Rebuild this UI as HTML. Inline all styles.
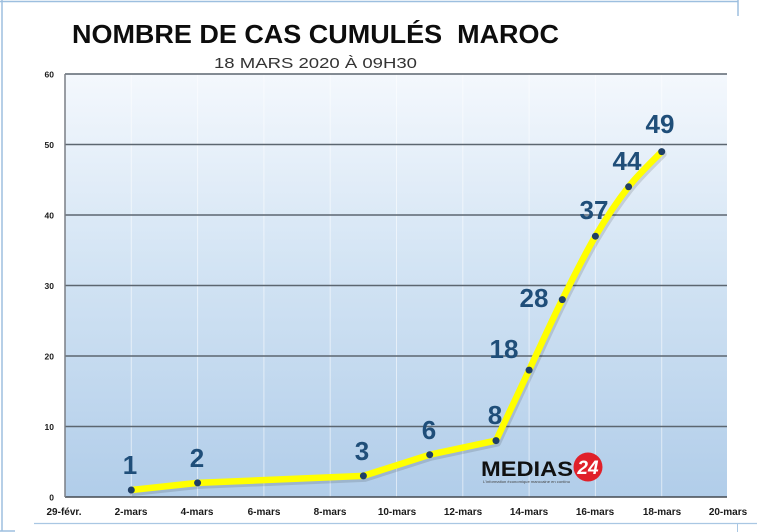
<!DOCTYPE html>
<html>
<head>
<meta charset="utf-8">
<style>
  html, body { margin:0; padding:0; background:#ffffff; }
  svg { display:block; }
  text { font-family: "Liberation Sans", "DejaVu Sans", sans-serif; }
</style>
</head>
<body>
<svg width="769" height="532" viewBox="0 0 769 532" xmlns="http://www.w3.org/2000/svg">
  <defs>
    <linearGradient id="bg" x1="0" y1="0" x2="0" y2="1">
      <stop offset="0" stop-color="#f4f8fd"/>
      <stop offset="0.45" stop-color="#d3e4f4"/>
      <stop offset="1" stop-color="#b1cde9"/>
    </linearGradient>
  </defs>
  <rect x="0" y="0" width="769" height="532" fill="#ffffff"/>

  <!-- outer frame fragments -->
  <line x1="0" y1="1.5" x2="738" y2="1.5" stroke="#9dbfdf" stroke-width="1.5"/>
  <line x1="738" y1="0" x2="738" y2="16" stroke="#9dbfdf" stroke-width="1.5"/>
  <line x1="2" y1="0" x2="2" y2="531" stroke="#9dbfdf" stroke-width="1.5"/>
  <line x1="0" y1="531" x2="15" y2="531" stroke="#9dbfdf" stroke-width="1.5"/>
  <line x1="34" y1="523.5" x2="757" y2="523.5" stroke="#a9c7e3" stroke-width="1.2"/>
  <line x1="737.5" y1="523" x2="737.5" y2="532" stroke="#a9c7e3" stroke-width="1"/>

  <!-- title -->
  <text x="72" y="43" font-size="26" font-weight="bold" fill="#0d0d0d" textLength="487" lengthAdjust="spacingAndGlyphs" xml:space="preserve">NOMBRE DE CAS CUMULÉS  MAROC</text>
  <text x="214" y="68" font-size="15" fill="#333333" textLength="203" lengthAdjust="spacingAndGlyphs">18 MARS 2020 À 09H30</text>

  <!-- plot area -->
  <rect x="65" y="74" width="662" height="423" fill="url(#bg)"/>

  <!-- vertical faint gridlines -->
  <g stroke="#ffffff" stroke-opacity="0.55" stroke-width="1">
    <line x1="131.3" y1="74" x2="131.3" y2="497"/>
    <line x1="197.6" y1="74" x2="197.6" y2="497"/>
    <line x1="263.9" y1="74" x2="263.9" y2="497"/>
    <line x1="330.2" y1="74" x2="330.2" y2="497"/>
    <line x1="396.5" y1="74" x2="396.5" y2="497"/>
    <line x1="462.8" y1="74" x2="462.8" y2="497"/>
    <line x1="529.1" y1="74" x2="529.1" y2="497"/>
    <line x1="595.4" y1="74" x2="595.4" y2="497"/>
    <line x1="661.7" y1="74" x2="661.7" y2="497"/>
  </g>

  <!-- horizontal gridlines -->
  <g stroke="#5c6670" stroke-width="1.5">
    <line x1="65" y1="74" x2="727" y2="74"/>
    <line x1="65" y1="144.5" x2="727" y2="144.5"/>
    <line x1="65" y1="215" x2="727" y2="215"/>
    <line x1="65" y1="285.5" x2="727" y2="285.5"/>
    <line x1="65" y1="356" x2="727" y2="356"/>
    <line x1="65" y1="426.5" x2="727" y2="426.5"/>
  </g>
  <line x1="65" y1="497" x2="727" y2="497" stroke="#444a50" stroke-width="1.6"/>
  <line x1="65" y1="74" x2="65" y2="497" stroke="#7a7f85" stroke-width="1.5"/>

  <!-- y labels -->
  <g font-size="8.5" font-weight="bold" fill="#1a1a1a" text-anchor="end">
    <text x="54" y="77.5">60</text>
    <text x="54" y="148">50</text>
    <text x="54" y="218.5">40</text>
    <text x="54" y="289">30</text>
    <text x="54" y="359.5">20</text>
    <text x="54" y="430">10</text>
    <text x="54" y="500.5">0</text>
  </g>

  <!-- x labels -->
  <g font-size="10" font-weight="bold" fill="#1a1a1a" text-anchor="middle">
    <text x="64" y="515">29-févr.</text>
    <text x="131" y="515">2-mars</text>
    <text x="197" y="515">4-mars</text>
    <text x="264" y="515">6-mars</text>
    <text x="330" y="515">8-mars</text>
    <text x="397" y="515">10-mars</text>
    <text x="463" y="515">12-mars</text>
    <text x="529" y="515">14-mars</text>
    <text x="595" y="515">16-mars</text>
    <text x="662" y="515">18-mars</text>
    <text x="728" y="515">20-mars</text>
  </g>

  <!-- logo -->
  <text x="481" y="476" font-size="21" font-weight="bold" fill="#111111" textLength="92" lengthAdjust="spacingAndGlyphs">MEDIAS</text>
  <circle cx="588" cy="467" r="14.5" fill="#e0202a"/>
  <text x="588" y="474" font-size="19" font-weight="bold" font-style="italic" fill="#ffffff" text-anchor="middle">24</text>
  <text x="483" y="483" font-size="4" fill="#444444" textLength="87" lengthAdjust="spacingAndGlyphs">L'information économique marocaine en continu</text>

  <!-- series shadow -->
  <path fill="none" stroke="#000000" stroke-opacity="0.12" stroke-width="7" stroke-linejoin="round" stroke-linecap="round"
    transform="translate(1.5,2.5)"
    d="M131.3,490 L197.6,482.9 L363.4,475.9 L429.7,454.7 L496,440.6 C501.52,428.85 518.05,393.6 529.1,370.1 C540.15,346.6 551.25,321.92 562.3,299.6 C573.35,277.28 584.35,255 595.4,236.2 C606.45,217.4 617.55,200.9 628.6,186.8 C639.65,172.7 656.18,157.47 661.7,151.6"/>
  <!-- series line -->
  <path fill="none" stroke="#ffff00" stroke-width="6.5" stroke-linejoin="round" stroke-linecap="round"
    d="M131.3,490 L197.6,482.9 L363.4,475.9 L429.7,454.7 L496,440.6 C501.52,428.85 518.05,393.6 529.1,370.1 C540.15,346.6 551.25,321.92 562.3,299.6 C573.35,277.28 584.35,255 595.4,236.2 C606.45,217.4 617.55,200.9 628.6,186.8 C639.65,172.7 656.18,157.47 661.7,151.6"/>
  <g fill="#1f3f66">
    <circle cx="131.3" cy="490" r="3.5"/>
    <circle cx="197.6" cy="482.9" r="3.5"/>
    <circle cx="363.4" cy="475.9" r="3.5"/>
    <circle cx="429.7" cy="454.7" r="3.5"/>
    <circle cx="496" cy="440.6" r="3.5"/>
    <circle cx="529.1" cy="370.1" r="3.5"/>
    <circle cx="562.3" cy="299.6" r="3.5"/>
    <circle cx="595.4" cy="236.2" r="3.5"/>
    <circle cx="628.6" cy="186.8" r="3.5"/>
    <circle cx="661.7" cy="151.6" r="3.5"/>
  </g>

  <!-- data labels -->
  <g font-size="26" font-weight="bold" fill="#1f4e79" text-anchor="middle">
    <text x="130" y="474">1</text>
    <text x="197" y="467">2</text>
    <text x="362" y="460">3</text>
    <text x="429" y="439">6</text>
    <text x="495" y="424">8</text>
    <text x="504" y="358">18</text>
    <text x="534" y="307">28</text>
    <text x="594" y="219">37</text>
    <text x="627" y="170">44</text>
    <text x="660" y="133">49</text>
  </g>
</svg>
</body>
</html>
